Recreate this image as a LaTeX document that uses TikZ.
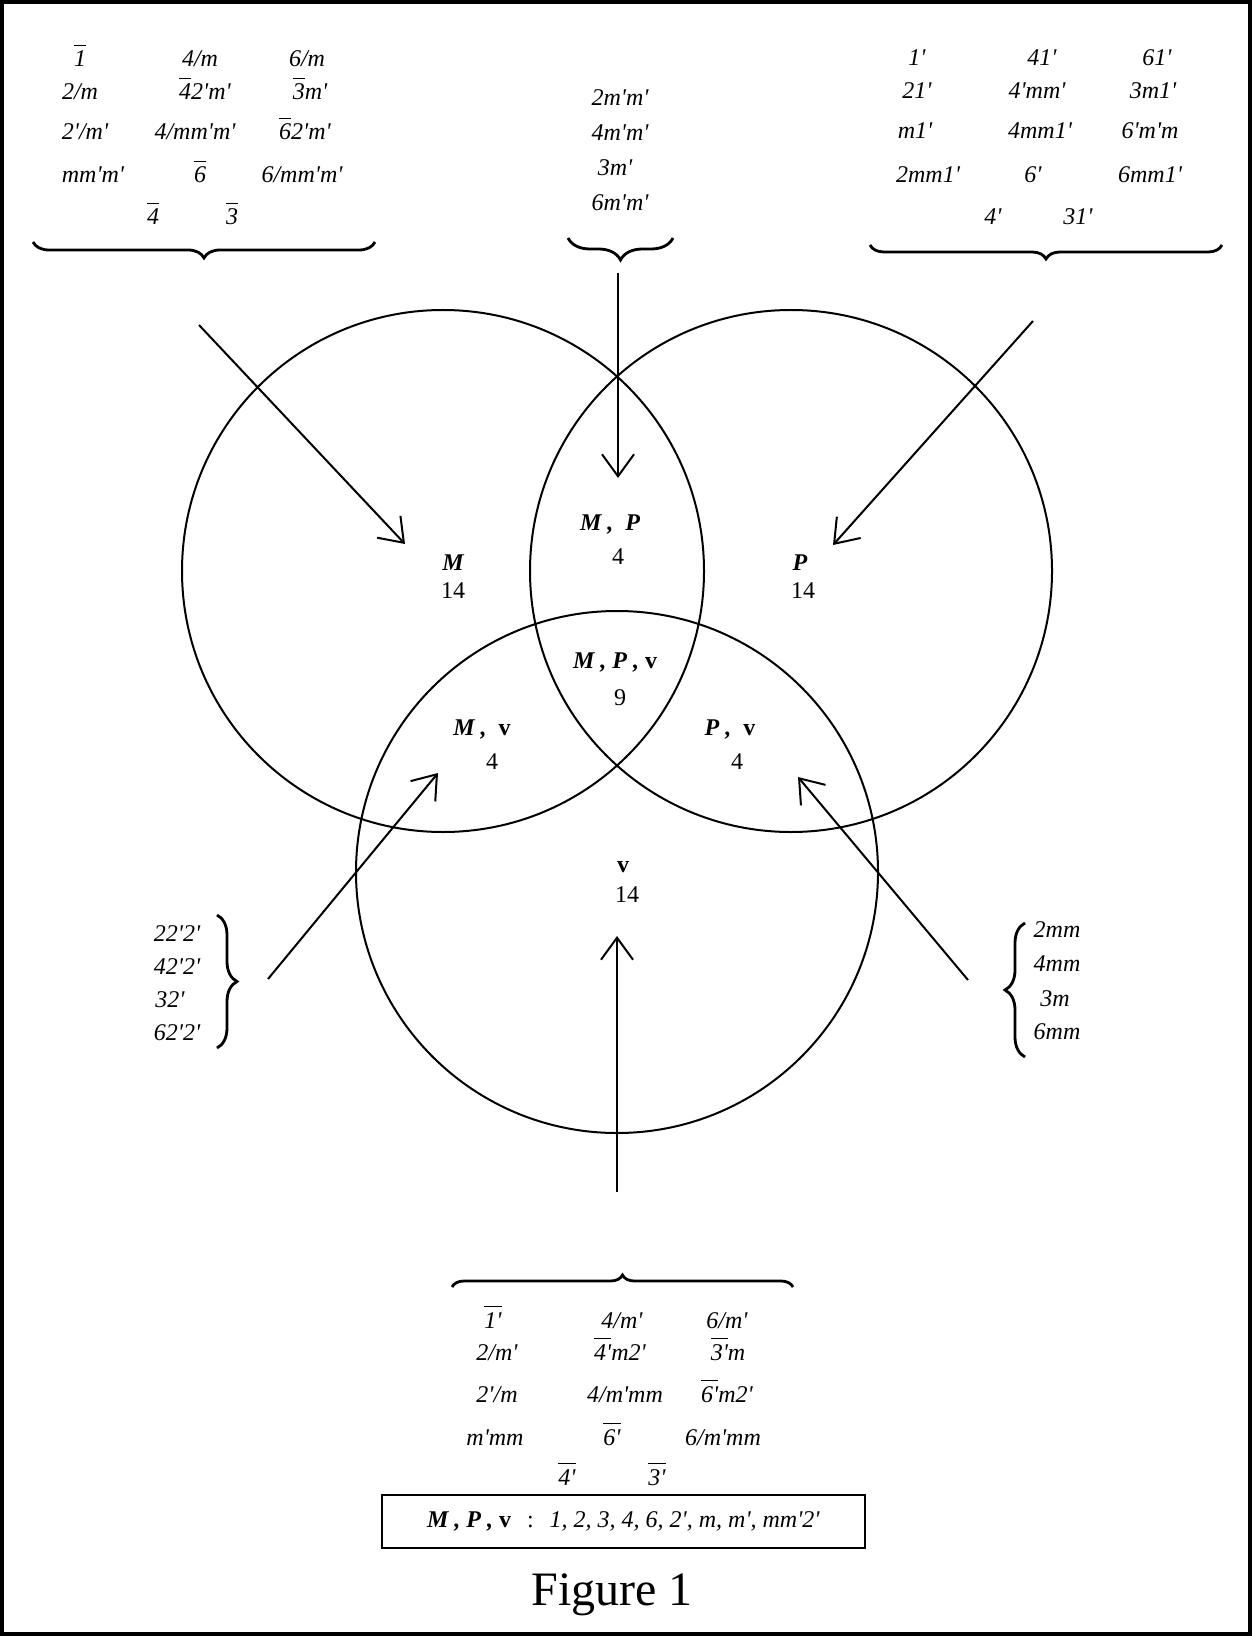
\documentclass[tikz,border=0pt]{standalone}
\usepackage{fontspec}
\setmainfont{Liberation Serif}[Ligatures=TeXOff]
\usetikzlibrary{arrows.meta,decorations.pathreplacing}
\newcommand{\ovl}[1]{\vbox{\hrule height 0.8pt\kern 2.5pt\hbox{#1}}}
\newcommand{\bMP}[1]{{\bfseries\itshape #1}}
\tikzset{
  venn/.style={line width=1pt},
  pointer/.style={line width=1pt,-{Straight Barb[length=11pt,width=16pt]}},
  sym/.style={anchor=base,inner sep=0pt,font=\fontsize{12}{14}\selectfont\itshape},
  region/.style={anchor=base,inner sep=0pt,font=\fontsize{12}{14}\selectfont},
  curly/.style={decorate,decoration={brace,amplitude=#1},line width=1.4pt},
  curlyflip/.style={decorate,decoration={brace,mirror,amplitude=#1},line width=1.4pt},
}

\begin{document}
\begin{tikzpicture}[x=0.5pt,y=-0.5pt]
  \useasboundingbox (0,0) rectangle (1252,1636);
  \draw[line width=2pt] (2,2) rectangle (1250,1634);

  \draw[venn] (443,571) circle (261);
  \draw[venn] (791,571) circle (261);
  \draw[venn] (617,872) circle (261);

  \node[sym] (tl1) at (80,67) {\ovl{1}};
  \node[sym] (tl2) at (200,67) {4/m};
  \node[sym] (tl3) at (307,67) {6/m};
  \node[sym] (tl4) at (80,100) {2/m};
  \node[sym] (tl5) at (205,100) {\ovl{4}2'm'};
  \node[sym] (tl6) at (310,100) {\ovl{3}m'};
  \node[sym] (tl7) at (85,140) {2'/m'};
  \node[sym] (tl8) at (195,140) {4/mm'm'};
  \node[sym] (tl9) at (305,140) {\ovl{6}2'm'};
  \node[sym] (tl10) at (93,183) {mm'm'};
  \node[sym] (tl11) at (200,183) {\ovl{6}};
  \node[sym] (tl12) at (302,183) {6/mm'm'};
  \node[sym] (tl13) at (153,225) {\ovl{4}};
  \node[sym] (tl14) at (232,225) {\ovl{3}};
  \coordinate (btlA) at (33,242);
  \coordinate (btlB) at (375,242);
  \draw[curlyflip=8pt] (btlA) -- (btlB);

  \node[sym] (tm1) at (620,106) {2m'm'};
  \node[sym] (tm2) at (620,141) {4m'm'};
  \node[sym] (tm3) at (615,176) {3m'};
  \node[sym] (tm4) at (620,211) {6m'm'};
  \coordinate (btmA) at (568,238);
  \coordinate (btmB) at (673,238);
  \draw[curlyflip=11pt] (btmA) -- (btmB);

  \node[sym] (tr1) at (917,66) {1'};
  \node[sym] (tr2) at (1042,66) {41'};
  \node[sym] (tr3) at (1157,66) {61'};
  \node[sym] (tr4) at (917,99) {21'};
  \node[sym] (tr5) at (1037,99) {4'mm'};
  \node[sym] (tr6) at (1153,99) {3m1'};
  \node[sym] (tr7) at (915,139) {m1'};
  \node[sym] (tr8) at (1040,139) {4mm1'};
  \node[sym] (tr9) at (1150,139) {6'm'm};
  \node[sym] (tr10) at (928,183) {2mm1'};
  \node[sym] (tr11) at (1033,183) {6'};
  \node[sym] (tr12) at (1150,183) {6mm1'};
  \node[sym] (tr13) at (993,225) {4'};
  \node[sym] (tr14) at (1078,225) {31'};
  \coordinate (btrA) at (870,245);
  \coordinate (btrB) at (1222,245);
  \draw[curlyflip=7pt] (btrA) -- (btrB);

  \node[sym] (lf1) at (177,941) {22'2'};
  \node[sym] (lf2) at (177,974) {42'2'};
  \node[sym] (lf3) at (170,1007) {32'};
  \node[sym] (lf4) at (177,1040) {62'2'};
  \coordinate (blfA) at (217,915);
  \coordinate (blfB) at (217,1048);
  \draw[curly=10pt] (blfA) -- (blfB);

  \node[sym] (rt1) at (1057,937) {2mm};
  \node[sym] (rt2) at (1057,971) {4mm};
  \node[sym] (rt3) at (1055,1006) {3m};
  \node[sym] (rt4) at (1057,1039) {6mm};
  \coordinate (brtA) at (1025,923);
  \coordinate (brtB) at (1025,1057);
  \draw[curlyflip=10pt] (brtA) -- (brtB);

  \coordinate (bbtA) at (452,1287);
  \coordinate (bbtB) at (793,1287);
  \draw[curly=6pt] (bbtA) -- (bbtB);
  \node[sym] (bt1) at (493,1328) {\ovl{1'}};
  \node[sym] (bt2) at (622,1328) {4/m'};
  \node[sym] (bt3) at (727,1328) {6/m'};
  \node[sym] (bt4) at (497,1360) {2/m'};
  \node[sym] (bt5) at (620,1360) {\ovl{4'}m2'};
  \node[sym] (bt6) at (728,1360) {\ovl{3'}m};
  \node[sym] (bt7) at (497,1402) {2'/m};
  \node[sym] (bt8) at (625,1402) {4/m'mm};
  \node[sym] (bt9) at (727,1402) {\ovl{6'}m2'};
  \node[sym] (bt10) at (495,1445) {m'mm};
  \node[sym] (bt11) at (612,1445) {\ovl{6'}};
  \node[sym] (bt12) at (723,1445) {6/m'mm};
  \node[sym] (bt13) at (567,1485) {\ovl{4'}};
  \node[sym] (bt14) at (657,1485) {\ovl{3'}};

  \node[region] (rM) at (453,570) {\bMP{M}};
  \node[region] (rMn) at (453,598) {14};
  \node[region] (rP) at (800,570) {\bMP{P}};
  \node[region] (rPn) at (803,598) {14};
  \node[region] (rMP) at (610,530) {\bMP{M ,\ \ P}};
  \node[region] (rMPn) at (618,564) {4};
  \node[region] (rMPv) at (615,668) {\bMP{M , P ,} \textbf{v}};
  \node[region] (rMPvn) at (620,705) {9};
  \node[region] (rMv) at (482,735) {\bMP{M ,\ } \textbf{v}};
  \node[region] (rMvn) at (492,769) {4};
  \node[region] (rPv) at (730,735) {\bMP{P ,\ } \textbf{v}};
  \node[region] (rPvn) at (737,769) {4};
  \node[region] (rv) at (623,872) {\textbf{v}};
  \node[region] (rvn) at (627,902) {14};

  \coordinate (aTLs) at (199,325);
  \coordinate (aTLe) at (405,544);
  \coordinate (aTMs) at (618,273);
  \coordinate (aTMe) at (618,478);
  \coordinate (aTRs) at (1033,321);
  \coordinate (aTRe) at (833,545);
  \coordinate (aLFs) at (268,979);
  \coordinate (aLFe) at (438,773);
  \coordinate (aBTs) at (617,1192);
  \coordinate (aBTe) at (617,936);
  \coordinate (aRTs) at (968,980);
  \coordinate (aRTe) at (798,777);
  \draw[pointer] (aTLs) -- (aTLe);
  \draw[pointer] (aTMs) -- (aTMe);
  \draw[pointer] (aTRs) -- (aTRe);
  \draw[pointer] (aLFs) -- (aLFe);
  \draw[pointer] (aBTs) -- (aBTe);
  \draw[pointer] (aRTs) -- (aRTe);

  \node[draw,line width=1pt,minimum width=241.5pt,minimum height=26.5pt,inner sep=0pt,
    font=\fontsize{12}{14}\selectfont] (key) at (623.5,1521.5)
    {\bMP{M , P ,} \textbf{v}\ \ \,:\ \ \,\textit{1, 2, 3, 4, 6, 2', m, m', mm'2'}};
  \node[anchor=base,inner sep=0pt,font=\fontsize{24}{28}\selectfont] (fig) at (612,1605) {Figure 1};
\end{tikzpicture}
\end{document}
